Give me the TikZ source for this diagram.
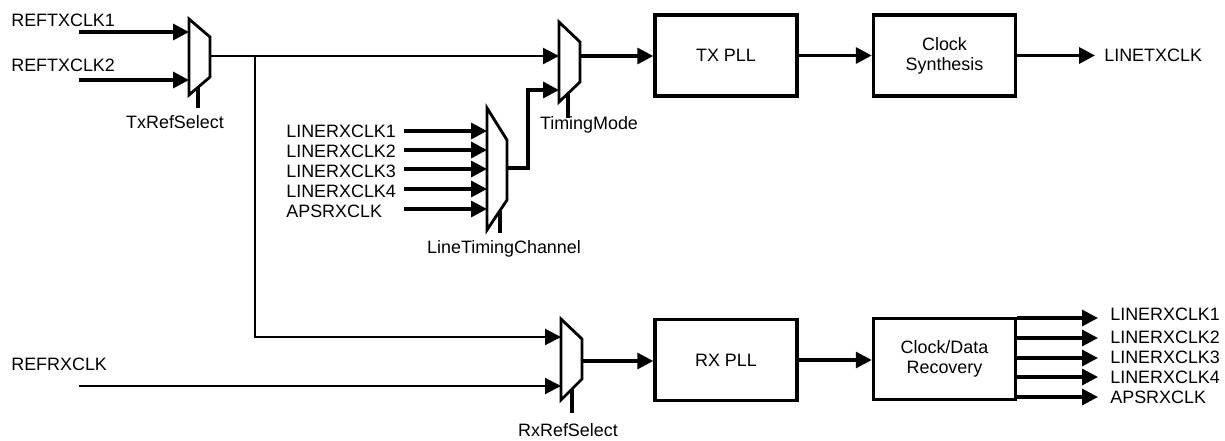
\documentclass[tikz,border=0pt]{standalone}
\usepackage{fontspec}
\setmainfont{Liberation Sans}
\usetikzlibrary{arrows.meta,positioning}
\tikzset{
block/.style={rectangle, draw, line width=2pt, minimum width=2.84cm, minimum height=1.62cm, align=center, font=\fontsize{10.2}{11.5}\selectfont},
sig/.style={inner sep=0pt, font=\fontsize{10.2}{12}\selectfont},
wire/.style={line width=1.9pt},
thin_wire/.style={line width=1.2pt},
feed/.style={line width=1.9pt, -{Triangle[length=0.32cm, width=0.32cm]}},
mux_line/.style={line width=1.6pt, line join=miter}
}

\begin{document}
\begin{tikzpicture}[x=0.02cm, y=-0.02cm]
    \useasboundingbox (0,0) rectangle (1225,440);

    % muxes
    \draw[mux_line] (189,19) -- (210,37) -- (210,77) -- (189,95) -- cycle;
    \coordinate (txsel_in1) at (189,32);
    \coordinate (txsel_in2) at (189,80);
    \coordinate (txsel_out) at (210,56);
    \coordinate (txsel_sel) at (198,87);
    \draw[mux_line] (559,22) -- (580,42) -- (580,82) -- (559,102) -- cycle;
    \coordinate (tm_in1) at (559,56);
    \coordinate (tm_in2) at (559,90);
    \coordinate (tm_out) at (580,56);
    \coordinate (tm_sel) at (568,94);
    \draw[mux_line] (487,108) -- (507,140) -- (507,200) -- (487,230) -- cycle;
    \coordinate (ltc_in1) at (487,131);
    \coordinate (ltc_in2) at (487,150);
    \coordinate (ltc_in3) at (487,169);
    \coordinate (ltc_in4) at (487,189);
    \coordinate (ltc_in5) at (487,209);
    \coordinate (ltc_out) at (507,168);
    \coordinate (ltc_sel) at (500,211);
    \draw[mux_line] (561,319) -- (582,339) -- (582,379) -- (561,400) -- cycle;
    \coordinate (rxsel_in1) at (561,337);
    \coordinate (rxsel_in2) at (561,386);
    \coordinate (rxsel_out) at (582,361);
    \coordinate (rxsel_sel) at (572,389);

    % blocks
    \node[block] (txpll) at (726,55.5) {TX PLL};
    \node[block] (clksyn) at (944.5,55.5) {Clock\\Synthesis};
    \node[block] (rxpll) at (726,360) {RX PLL};
    \node[block] (cdr) at (944.5,359) {Clock/Data\\Recovery};

    % input labels
    \node[sig, anchor=west] (reftx1) at (11,20) {REFTXCLK1};
    \node[sig, anchor=west] (reftx2) at (11,65) {REFTXCLK2};
    \node[sig, anchor=west] (refrx) at (11,364) {REFRXCLK};
    \node[sig, anchor=west] (lrx1) at (286,131) {LINERXCLK1};
    \node[sig, anchor=west] (lrx2) at (286,151) {LINERXCLK2};
    \node[sig, anchor=west] (lrx3) at (286,171) {LINERXCLK3};
    \node[sig, anchor=west] (lrx4) at (286,191) {LINERXCLK4};
    \node[sig, anchor=west] (apsrx) at (286,211) {APSRXCLK};
    \coordinate (reftx1_start) at (79,32);
    \coordinate (reftx2_start) at (79,80);
    \coordinate (refrx_start) at (79,386);
    \coordinate (branch) at (255,56);

    % select labels
    \node[sig] (txsel_lbl) at (175,122) {TxRefSelect};
    \node[sig] (tm_lbl) at (589,125) {TimingMode};
    \node[sig] (ltc_lbl) at (504,249) {LineTimingChannel};
    \node[sig] (rxsel_lbl) at (568,430) {RxRefSelect};

    % output labels
    \node[sig, anchor=west] (linetx) at (1104,55) {LINETXCLK};
    \node[sig, anchor=west] (lrx1_o) at (1110,314) {LINERXCLK1};
    \node[sig, anchor=west] (lrx2_o) at (1110,337) {LINERXCLK2};
    \node[sig, anchor=west] (lrx3_o) at (1110,357) {LINERXCLK3};
    \node[sig, anchor=west] (lrx4_o) at (1110,377) {LINERXCLK4};
    \node[sig, anchor=west] (apsrx_o) at (1110,397) {APSRXCLK};
    \coordinate (cdr_o1) at (1017,318);
    \coordinate (cdr_o2) at (1017,338);
    \coordinate (cdr_o3) at (1017,358);
    \coordinate (cdr_o4) at (1017,377);
    \coordinate (cdr_o5) at (1017,397);

    % tx side
    \draw[feed] (reftx1_start) -- (txsel_in1);
    \draw[feed] (reftx2_start) -- (txsel_in2);
    \draw[wire] (txsel_sel) -- ++(0,21);
    \draw[feed, thin_wire] (txsel_out) -- (tm_in1);
    \draw[feed, thin_wire] (branch) |- (rxsel_in1);
    \draw[feed] (ltc_in1 -| 404,0) -- (ltc_in1);
    \draw[feed] (ltc_in2 -| 404,0) -- (ltc_in2);
    \draw[feed] (ltc_in3 -| 404,0) -- (ltc_in3);
    \draw[feed] (ltc_in4 -| 404,0) -- (ltc_in4);
    \draw[feed] (ltc_in5 -| 404,0) -- (ltc_in5);
    \draw[wire] (ltc_sel) -- ++(0,22);
    \draw[feed] (ltc_out) -- ++(21,0) |- (tm_in2);
    \draw[wire] (tm_sel) -- ++(0,24);
    \draw[feed] (tm_out) -- (tm_out -| txpll.west);
    \draw[feed] (txpll.east) -- (txpll.east -| clksyn.west);
    \draw[feed, shorten >=0.18cm] (clksyn.east) -- (clksyn.east -| linetx.west);

    % rx side
    \draw[feed, thin_wire] (refrx_start) -- (rxsel_in2);
    \draw[wire] (rxsel_sel) -- ++(0,24);
    \draw[feed] (rxsel_out) -- (rxsel_out -| rxpll.west);
    \draw[feed] (rxpll.east) -- (rxpll.east -| cdr.west);
    \draw[feed, shorten >=0.24cm] (cdr_o1) -- (cdr_o1 -| lrx1_o.west);
    \draw[feed, shorten >=0.24cm] (cdr_o2) -- (cdr_o2 -| lrx2_o.west);
    \draw[feed, shorten >=0.24cm] (cdr_o3) -- (cdr_o3 -| lrx3_o.west);
    \draw[feed, shorten >=0.24cm] (cdr_o4) -- (cdr_o4 -| lrx4_o.west);
    \draw[feed, shorten >=0.24cm] (cdr_o5) -- (cdr_o5 -| apsrx_o.west);
\end{tikzpicture}
\end{document}
